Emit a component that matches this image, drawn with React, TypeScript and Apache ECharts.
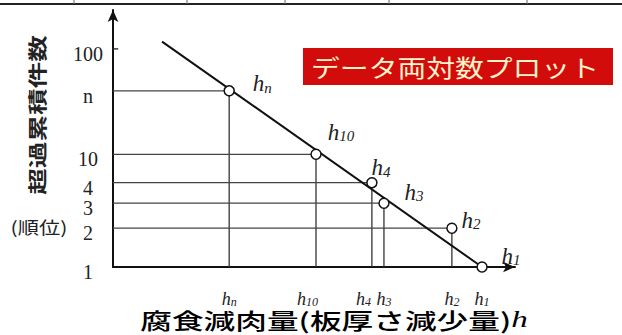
import React, { useEffect, useRef } from 'react';
import * as echarts from 'echarts';

// ---- data (schematic units) ----
const pointNames = ['n', '10', '4', '3', '2', '1'];
const pointX = [28.9, 50.5, 64.4, 67.4, 84.3, 91.8]; // corrosion loss h (relative units)
const rankPos = [1.563, 1.0, 0.748, 0.566, 0.344, 0]; // plotting position of the rank
const yTickLabels = ['1', '2', '3', '4', '10', 'n', '100'];
const yTickPos = [0, 0.344, 0.566, 0.748, 1.0, 1.563, 1.935];
const fitLineX = [12.2, 91.8];
const fitLineY = [2.0, 0];

// ---- styles ----
const labelOffsets = [[33, -7], [25, -22], [9, -15], [30, -11], [19, -8], [29, -11]];
const xLabelShift = [0, -8, -9, 0, 0, 0];

const SERIF = '"Liberation Serif", "DejaVu Serif", serif';
const CJK = '"Noto Sans CJK JP", "Noto Sans CJK SC", sans-serif';

export default function App() {
  const ref = useRef<HTMLDivElement>(null);
  useEffect(() => {
    if (!ref.current) return;
    const chart = echarts.init(ref.current, null, { renderer: 'svg' });

    const guideSeries: any[] = [];
    pointX.forEach((x, i) => {
      const y = rankPos[i];
      if (y > 0) {
        guideSeries.push({
          type: 'line', data: [[0, y], [x, y]], symbol: 'none', silent: true,
          lineStyle: { color: '#444', width: 1.2 }, z: 2,
        });
      }
      guideSeries.push({
        type: 'line', data: [[x, y], [x, 0]], symbol: 'none', silent: true,
        lineStyle: { color: '#333', width: 1.3 }, z: 2,
      });
    });

    const tick100 = yTickPos[yTickLabels.indexOf('100')];

    const option: any = {
      animation: false,
      backgroundColor: '#fff',
      grid: { left: 113, right: 107, top: 10, bottom: 68 },
      xAxis: {
        type: 'value', min: 0, max: 100,
        splitLine: { show: false },
        axisTick: { show: false },
        axisLine: {
          show: true, symbol: ['none', 'arrow'], symbolSize: [8, 12],
          lineStyle: { color: '#111', width: 2 },
        },
        axisLabel: {
          customValues: pointX,
          hideOverlap: false,
          margin: 23,
          formatter: (v: number) => {
            let idx = 0;
            let best = Infinity;
            pointX.forEach((p, i) => { const d = Math.abs(p - v); if (d < best) { best = d; idx = i; } });
            const sh = xLabelShift[idx];
            return `{h|h}{s|${pointNames[idx]}}` + (sh ? `{g|${' '}}` : '');
          },
          rich: {
            h: { fontFamily: SERIF, fontStyle: 'italic', fontSize: 18, lineHeight: 18, verticalAlign: 'top', color: '#222' },
            s: { fontFamily: SERIF, fontStyle: 'italic', fontSize: 12, lineHeight: 10, verticalAlign: 'bottom', color: '#222' },
            g: { width: 17, fontSize: 11 },
          },
        },
      },
      yAxis: {
        type: 'value', min: 0, max: 2.28,
        splitLine: { show: false },
        axisLine: {
          show: true, symbol: ['none', 'arrow'], symbolSize: [8, 12],
          lineStyle: { color: '#111', width: 2 },
        },
        axisTick: { show: false },
        axisLabel: {
          customValues: yTickPos,
          hideOverlap: false,
          margin: 25,
          align: 'center',
          verticalAlign: 'top',
          lineHeight: 10,
          fontFamily: SERIF,
          fontSize: 20,
          color: '#222',
          formatter: (v: number) => {
            let idx = 0;
            let best = Infinity;
            yTickPos.forEach((p, i) => { const d = Math.abs(p - v); if (d < best) { best = d; idx = i; } });
            return yTickLabels[idx];
          },
        },
      },
      series: [
        ...guideSeries,
        {
          type: 'line', data: [[-1.5, tick100], [1.3, tick100]], symbol: 'none', clip: false,
          silent: true, lineStyle: { color: '#222', width: 1.3 }, z: 3,
        },
        {
          type: 'line', data: fitLineX.map((x, i) => [x, fitLineY[i]]), symbol: 'none',
          silent: true, lineStyle: { color: '#111', width: 2 }, z: 4,
        },
        {
          type: 'scatter', z: 5, symbol: 'circle', symbolSize: 10,
          itemStyle: { color: '#fff', borderColor: '#111', borderWidth: 1.5, opacity: 1 },
          data: pointX.map((x, i) => ({
            value: [x, rankPos[i]],
            label: { offset: labelOffsets[i] },
          })),
          label: {
            show: true, position: 'inside', align: 'center', verticalAlign: 'middle',
            formatter: (p: any) => `{h|h}{s|${pointNames[p.dataIndex]}}`,
            rich: {
              h: { fontFamily: SERIF, fontStyle: 'italic', fontSize: 23, lineHeight: 23, verticalAlign: 'top', color: '#222' },
              s: { fontFamily: SERIF, fontStyle: 'italic', fontSize: 15, lineHeight: 11, verticalAlign: 'bottom', color: '#222' },
            },
          },
        },
      ],
      graphic: [
        { type: 'line', shape: { x1: 0, y1: 4, x2: 622, y2: 4 }, style: { stroke: '#222', lineWidth: 2 } },
        ...[74, 187, 285, 389, 527].map((x) => ({
          type: 'line', shape: { x1: x, y1: 0, x2: x, y2: 4 }, style: { stroke: '#666', lineWidth: 1 },
        })),
        { type: 'rect', shape: { x: 303, y: 48, width: 310, height: 37 }, style: { fill: '#d20b0b' } },
        {
          type: 'text', x: 455, y: 67, scaleX: 1.2,
          style: {
            text: 'データ両対数プロット', fill: '#fff4cc', fontFamily: CJK, fontSize: 24,
            align: 'center', verticalAlign: 'middle',
          },
        },
        {
          type: 'text', x: 37, y: 115, rotation: Math.PI / 2, scaleX: 1.4,
          style: {
            text: '超過累積件数', fill: '#222', fontFamily: CJK, fontSize: 19, fontWeight: 'bold',
            align: 'center', verticalAlign: 'middle',
          },
        },
        {
          type: 'text', x: 39, y: 227, scaleX: 1.25,
          style: {
            text: '(順位)', fill: '#222', fontFamily: CJK, fontSize: 17,
            align: 'center', verticalAlign: 'middle',
          },
        },
        {
          type: 'text', x: 334, y: 319, scaleX: 1.44,
          style: {
            text: '{a|腐食減肉量(板厚さ減少量)}{b|h}',
            align: 'center', verticalAlign: 'middle',
            rich: {
              a: { fontFamily: CJK, fontSize: 22, lineHeight: 22, fontWeight: 500, color: '#222' },
              b: { fontFamily: SERIF, fontStyle: 'italic', fontSize: 23, lineHeight: 22, color: '#222' },
            },
          },
        },
      ],
    };
    chart.setOption(option);
    return () => chart.dispose();
  }, []);
  return (
    <div
      ref={ref}
      style={{ position: 'fixed', left: 0, top: 0, width: 622, height: 335, background: '#fff' }}
    />
  );
}
